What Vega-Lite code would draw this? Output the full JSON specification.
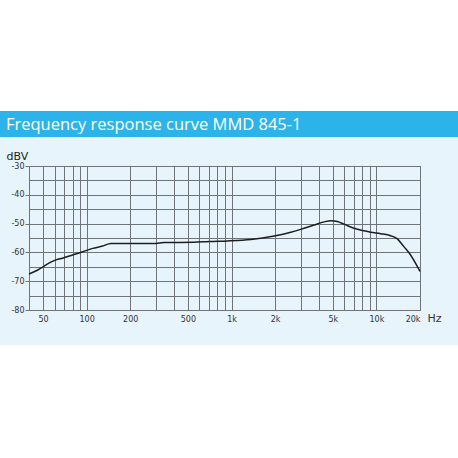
{
  "$schema": "https://vega.github.io/schema/vega-lite/v6.json",
  "background": "#e7f4fb",
  "padding": 0,
  "autosize": {"type": "pad"},
  "spacing": 0,
  "config": {
    "view": {"stroke": null},
    "concat": {"spacing": 0}
  },
  "vconcat": [
    {
      "width": 458, "height": 111,
      "view": {"fill": "#ffffff", "stroke": null},
      "data": {"values": [{"part": "top"}]},
      "mark": {"type": "rect", "color": "#ffffff"},
      "encoding": {}
    },
    {
      "width": 458, "height": 26,
      "view": {"fill": "#2cb4ea", "stroke": null},
      "title": {
        "text": "Frequency response curve MMD 845-1",
        "anchor": "start", "frame": "group", "orient": "top",
        "offset": -35, "dx": 6, "baseline": "alphabetic",
        "color": "#ffffff", "font": "Open Sans", "fontSize": 16.5, "fontWeight": "normal"
      },
      "data": {"values": [{"part": "header"}]},
      "mark": {"type": "rect", "color": "#2cb4ea"},
      "encoding": {}
    },
    {
      "width": 458, "height": 12,
      "view": {"fill": null, "stroke": null},
      "data": {"values": [{"part": "gap"}]},
      "mark": {"type": "rect", "opacity": 0},
      "encoding": {}
    },
    {
      "spacing": 0,
      "hconcat": [
        {
          "width": 5, "height": 179,
          "view": {"fill": null, "stroke": null},
          "data": {"values": [{"part": "left"}]},
          "mark": {"type": "rect", "opacity": 0},
          "encoding": {}
        },
        {
          "width": 391, "height": 144,
          "view": {"fill": null, "stroke": "#6f7478", "strokeWidth": 1},
          "data": {"values": [
            {"freq": 40, "db": -67.5},
            {"freq": 46, "db": -66.1},
            {"freq": 50, "db": -65.0},
            {"freq": 57, "db": -63.3},
            {"freq": 62, "db": -62.5},
            {"freq": 68, "db": -62.0},
            {"freq": 80, "db": -60.9},
            {"freq": 94, "db": -59.8},
            {"freq": 110, "db": -58.6},
            {"freq": 129, "db": -57.8},
            {"freq": 147, "db": -56.9},
            {"freq": 200, "db": -56.9},
            {"freq": 300, "db": -56.9},
            {"freq": 340, "db": -56.6},
            {"freq": 550, "db": -56.5},
            {"freq": 700, "db": -56.2},
            {"freq": 940, "db": -56.0},
            {"freq": 1360, "db": -55.5},
            {"freq": 1970, "db": -54.3},
            {"freq": 2565, "db": -53.0},
            {"freq": 3000, "db": -52.0},
            {"freq": 3710, "db": -50.5},
            {"freq": 4350, "db": -49.4},
            {"freq": 4840, "db": -49.0},
            {"freq": 5380, "db": -49.3},
            {"freq": 5975, "db": -50.2},
            {"freq": 7000, "db": -51.6},
            {"freq": 8210, "db": -52.5},
            {"freq": 9130, "db": -53.0},
            {"freq": 10700, "db": -53.5},
            {"freq": 12540, "db": -54.2},
            {"freq": 13950, "db": -55.3},
            {"freq": 15490, "db": -58.0},
            {"freq": 17220, "db": -60.9},
            {"freq": 18650, "db": -63.8},
            {"freq": 20000, "db": -66.6}
          ]},
          "mark": {"type": "line", "color": "#1e1e1e", "strokeWidth": 1.5, "interpolate": "monotone"},
          "encoding": {
            "x": {
              "field": "freq", "type": "quantitative",
              "scale": {"type": "log", "domain": [40, 20000], "nice": false},
              "axis": {
                "values": [50, 60, 70, 80, 90, 100, 200, 300, 400, 500, 600, 700, 800, 900, 1000, 2000, 3000, 4000, 5000, 6000, 7000, 8000, 9000, 10000, 20000],
                "labelExpr": "indexof([50,100,200,500], datum.value) >= 0 ? '' + datum.value : (indexof([1000,2000,5000,10000,20000], datum.value) >= 0 ? (datum.value / 1000) + 'k' : '')",
                "grid": true, "gridColor": "#6f7478", "gridWidth": 1, "gridOpacity": 1,
                "domain": false, "ticks": false,
                "labelFont": "DejaVu Sans", "labelFontSize": 8, "labelColor": "#333333",
                "labelPadding": 5, "labelFlush": true, "labelOverlap": false, "labelBound": false,
                "title": "Hz", "titleAngle": 0, "titleX": 398, "titleY": 8,
                "titleAlign": "left", "titleBaseline": "middle",
                "titleFont": "DejaVu Sans", "titleFontSize": 11, "titleFontWeight": "normal", "titleColor": "#333333"
              }
            },
            "y": {
              "field": "db", "type": "quantitative",
              "scale": {"domain": [-80, -30], "nice": false, "zero": false},
              "axis": {
                "values": [-80, -75, -70, -65, -60, -55, -50, -45, -40, -35, -30],
                "labelExpr": "datum.value % 10 === 0 ? '' + datum.value : ''",
                "grid": true, "gridColor": "#6f7478", "gridWidth": 1, "gridOpacity": 1,
                "domain": false,
                "tickSize": 4, "tickColor": "#6f7478", "tickWidth": 1,
                "tickOpacity": {"condition": {"test": "datum.value % 10 !== 0", "value": 0}, "value": 1},
                "labelFont": "DejaVu Sans", "labelFontSize": 8, "labelColor": "#333333",
                "labelPadding": 1, "labelOverlap": false, "labelBound": false, "labelFlush": false,
                "title": "dBV", "titleAngle": 0, "titleX": -23, "titleY": -7,
                "titleAlign": "left", "titleBaseline": "alphabetic",
                "titleFont": "DejaVu Sans", "titleFontSize": 11, "titleFontWeight": "normal", "titleColor": "#222222"
              }
            }
          }
        }
      ]
    },
    {
      "width": 458, "height": 113,
      "view": {"fill": "#ffffff", "stroke": null},
      "data": {"values": [{"part": "bottom"}]},
      "mark": {"type": "rect", "color": "#ffffff"},
      "encoding": {}
    }
  ]
}
